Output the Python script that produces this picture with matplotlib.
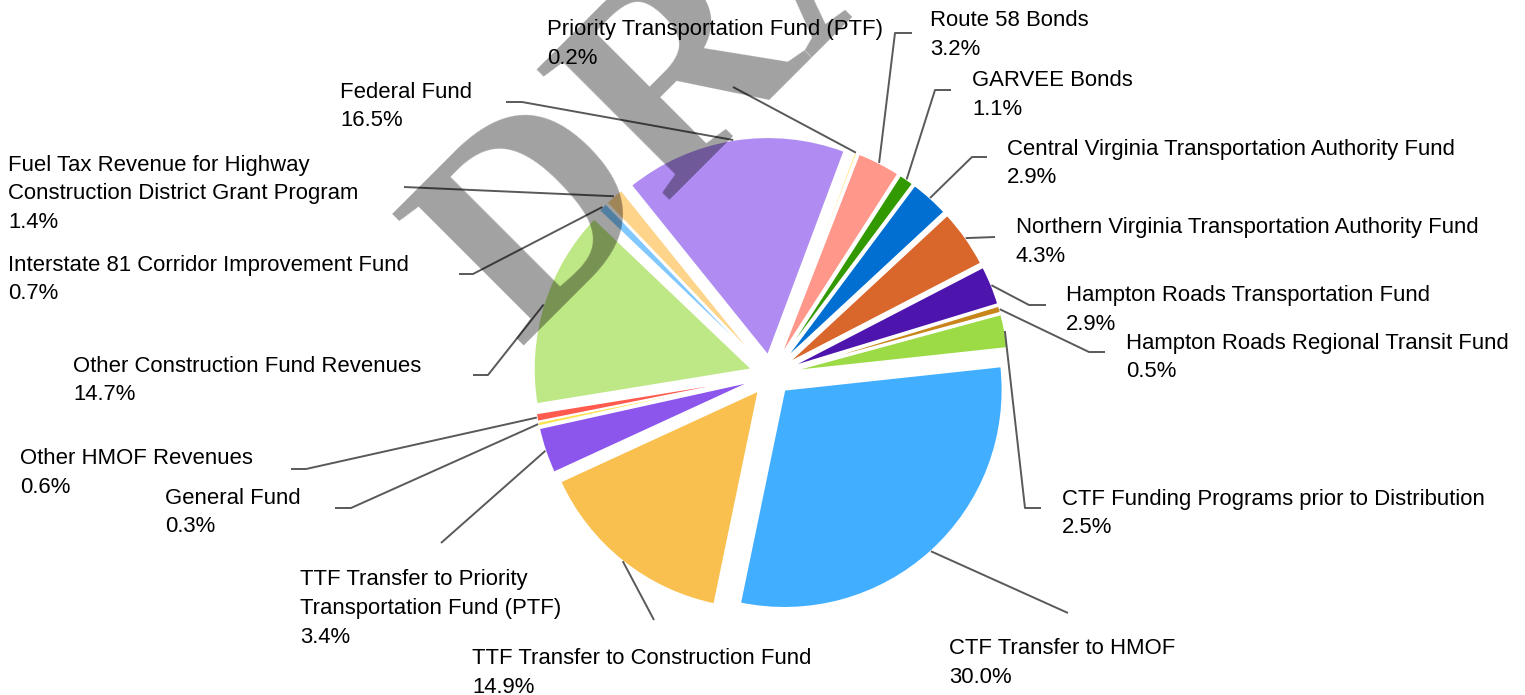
import matplotlib
matplotlib.use('Agg')
import numpy as np
import matplotlib.pyplot as plt

# ── data ──────────────────────────────────────────────────────────────
funds = [
    "Federal Fund",
    "Priority Transportation Fund (PTF)",
    "Route 58 Bonds",
    "GARVEE Bonds",
    "Central Virginia Transportation Authority Fund",
    "Northern Virginia Transportation Authority Fund",
    "Hampton Roads Transportation Fund",
    "Hampton Roads Regional Transit Fund",
    "CTF Funding Programs prior to Distribution",
    "CTF Transfer to HMOF",
    "TTF Transfer to Construction Fund",
    "TTF Transfer to Priority\nTransportation Fund (PTF)",
    "General Fund",
    "Other HMOF Revenues",
    "Other Construction Fund Revenues",
    "Interstate 81 Corridor Improvement Fund",
    "Fuel Tax Revenue for Highway\nConstruction District Grant Program",
]
shares = [16.5, 0.2, 3.2, 1.1, 2.9, 4.3, 2.9, 0.5, 2.5,
          30.0, 14.9, 3.4, 0.3, 0.6, 14.7, 0.7, 1.4]
colors = ["#B08CF2", "#FFE88A", "#FF978A", "#339900", "#006FD1", "#D9662B",
          "#4D15AD", "#C8861A", "#9CDB45", "#42AEFF", "#F9C04F", "#8C55EC",
          "#FFE04D", "#FF5A4E", "#BEE785", "#80C8FF", "#FDD48A"]

# ── layout (pixel coords, y down) ─────────────────────────────────────
W, H = 1525, 695
CX, CY, R = 771, 375, 218
EXPLODE = 20
# label: left x, centre y of first line
label_pos = [(340, 90), (547, 28), (930, 19), (972, 79), (1007, 147),
             (1016, 226), (1066, 294), (1126, 341), (1062, 497), (949, 647),
             (472, 657), (300, 578), (165, 496), (20, 457), (73, 364),
             (8, 263), (8, 163)]
# leader points after the arc point
leaders = [
    [(522, 102), (506, 102)],
    [(733, 87)],
    [(895, 33), (912, 33)],
    [(935, 90), (951, 90)],
    [(972, 157), (987, 157)],
    [(995, 237)],
    [(1029, 305), (1046, 305)],
    [(1089, 352), (1105, 352)],
    [(1025, 508), (1041, 508)],
    [(1068, 613)],
    [(654, 620)],
    [(441, 543)],
    [(351, 508), (335, 508)],
    [(306, 469), (291, 469)],
    [(488, 375), (473, 375)],
    [(473, 274), (459, 274)],
    [(404, 187)],
]
LINE_H = 28.7


def P(x, y):
    return x, H - y


fig = plt.figure(figsize=(W / 100, H / 100), dpi=100)
ax = fig.add_axes([0, 0, 1, 1])

wedges, _ = ax.pie(shares, colors=colors, startangle=128.8, counterclock=False,
                   radius=R, center=P(CX, CY), explode=[EXPLODE] * len(shares),
                   wedgeprops=dict(edgecolor="white", linewidth=1.2))

for w, name, v, (lx, ly), pts in zip(wedges, funds, shares, label_pos, leaders):
    th = np.deg2rad((w.theta1 + w.theta2) / 2)
    sx = w.center[0] + w.r * np.cos(th)
    sy = w.center[1] + w.r * np.sin(th)
    xs = [sx] + [p[0] for p in pts]
    ys = [sy] + [H - p[1] for p in pts]
    ax.plot(xs, ys, color="#595959", lw=1.4, zorder=2, solid_capstyle="butt")
    lines = name.split("\n") + [f"{v:.1f}%"]
    for k, t in enumerate(lines):
        ax.text(*P(lx, ly + k * LINE_H + 7.5), t, ha="left", va="baseline",
                fontsize=15.95, family="Liberation Sans", color="black", zorder=4)

# watermark
ax.text(*P(520, 346), "DRAFT", rotation=45, rotation_mode="anchor",
        ha="left", va="baseline", fontsize=205, family="Liberation Serif",
        fontweight="bold", color="black", alpha=0.37, zorder=3)

ax.set_xlim(0, W)
ax.set_ylim(0, H)
ax.set_aspect("equal")
ax.axis("off")

fig.savefig("out.png", dpi=100)
